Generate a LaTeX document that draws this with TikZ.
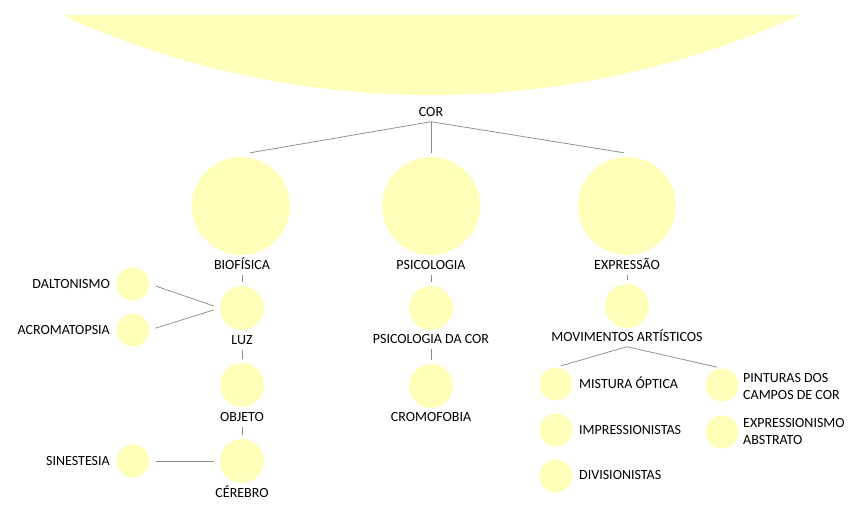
\documentclass[tikz,border=0pt]{standalone}
\usepackage{fontspec}
\setmainfont{Carlito}
\definecolor{ylw}{HTML}{FFFFB9}
\definecolor{lnk}{HTML}{8C8C8C}
\tikzset{
  big/.style={circle,fill=ylw,inner sep=0,minimum size=98pt},
  mid/.style={circle,fill=ylw,inner sep=0,minimum size=44pt},
  sml/.style={circle,fill=ylw,inner sep=0,minimum size=33pt},
  lbl/.style={inner sep=2pt,text height=12pt,text depth=3pt},
  lbltwo/.style={inner sep=2pt,align=left},
  link/.style={draw=lnk,line width=0.75pt},
  stem/.style={link,shorten >=4pt}
}
\begin{document}
\begin{tikzpicture}[x=1pt,y=-1pt,font=\fontsize{14}{17}\selectfont]
\useasboundingbox (0,0) rectangle (852,504);
\fill[ylw] (62,15) arc[start angle=114.47,end angle=65.53,radius=891] -- cycle;

\node[lbl] (cor) at (431,112) {COR};

\node[big] (bio) at (241,206) {};
\node[big] (psi) at (431,206) {};
\node[big] (exp) at (627,206) {};
\node[lbl] (biol) at (242,265) {BIOFÍSICA};
\node[lbl] (psil) at (431,265) {PSICOLOGIA};
\node[lbl] (expl) at (627,265) {EXPRESSÃO};

\node[mid] (luz) at (242,308) {};
\node[lbl] (luzl) at (242,340) {LUZ};
\node[mid] (obj) at (242,385) {};
\node[lbl] (objl) at (242,417) {OBJETO};
\node[mid] (cer) at (242,461) {};
\node[lbl] (cerl) at (242,493) {CÉREBRO};

\node[sml] (dal) at (133,284) {};
\node[lbl,anchor=east] (dall) at (112,284) {DALTONISMO};
\node[sml] (acr) at (133,330) {};
\node[lbl,anchor=east] (acrl) at (112,330) {ACROMATOPSIA};
\node[sml] (sin) at (133,461) {};
\node[lbl,anchor=east] (sinl) at (112,461) {SINESTESIA};

\node[mid] (pcor) at (431,308) {};
\node[lbl] (pcorl) at (431,339) {PSICOLOGIA DA COR};
\node[mid] (cro) at (431,386) {};
\node[lbl] (crol) at (431,417) {CROMOFOBIA};

\node[mid] (mov) at (627,306) {};
\node[lbl] (movl) at (627,337) {MOVIMENTOS ARTÍSTICOS};
\node[sml] (mis) at (556,384) {};
\node[lbl,anchor=west] (misl) at (577,384) {MISTURA ÓPTICA};
\node[sml] (imp) at (556,430) {};
\node[lbl,anchor=west] (impl) at (577,430) {IMPRESSIONISTAS};
\node[sml] (div) at (556,476) {};
\node[lbl,anchor=west] (divl) at (577,475) {DIVISIONISTAS};
\node[sml] (pin) at (722,385) {};
\node[lbltwo,anchor=west] (pinl) at (741,386) {PINTURAS DOS\\CAMPOS DE COR};
\node[sml] (abs) at (722,432) {};
\node[lbltwo,anchor=west] (absl) at (741,431) {EXPRESSIONISMO\\ABSTRATO};

\draw[link] (cor.south) -- ([xshift=9pt,yshift=4pt]bio.north);
\draw[link] (cor.south) -- ([yshift=4pt]psi.north);
\draw[link] (cor.south) -- ([xshift=-3pt,yshift=4pt]exp.north);

\draw[stem] (biol.south) -- (luz.north);
\draw[stem] (luzl.south) -- (obj.north);
\draw[stem] (objl.south) -- (cer.north);
\draw[stem] (psil.south) -- (pcor.north);
\draw[stem] (pcorl.south) -- (cro.north);
\draw[stem] (expl.south) -- (mov.north);

\draw[link,shorten <=6pt,shorten >=6pt] (dal.east) -- (luz.west);
\draw[link,shorten <=6pt,shorten >=6pt] (acr.east) -- (luz.west);
\draw[link,shorten <=6pt,shorten >=6pt] (sin.east) -- (cer.west);

\draw[link,shorten >=5pt] (movl.south) -- (mis.north);
\draw[link,shorten >=5pt] (movl.south) -- (pin.north);
\end{tikzpicture}
\end{document}
